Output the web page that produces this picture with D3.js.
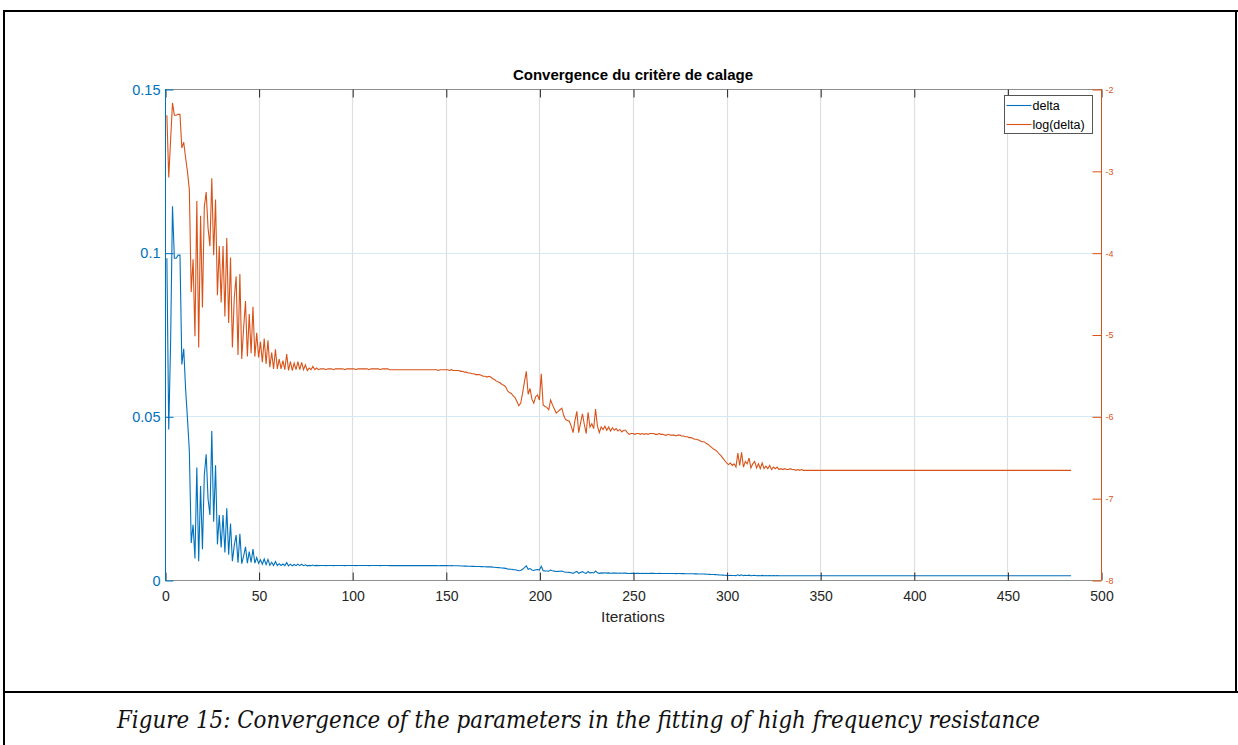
<!DOCTYPE html>
<html>
<head>
<meta charset="utf-8">
<script src="https://cdn.jsdelivr.net/npm/d3@7"></script>
<style>
  html, body { margin: 0; padding: 0; background: #ffffff; }
  svg { display: block; font-family: "Liberation Sans", Arial, Helvetica, sans-serif; }
  .caption { font-family: "DejaVu Serif Condensed", "DejaVu Serif", serif; font-style: italic; font-stretch: condensed; }
</style>
</head>
<body>
<svg id="fig" width="1238" height="745"></svg>
<script>
// ---- data -------------------------------------------------------------
const chartTitle = "Convergence du critère de calage";
const xLabel = "Iterations";
const captionText = "Figure 15: Convergence of the parameters in the fitting of high frequency resistance";
const seriesNames = ["delta", "log(delta)"];

const xTicks = [0, 50, 100, 150, 200, 250, 300, 350, 400, 450, 500];
const leftTicks = [0, 0.05, 0.1, 0.15];
const rightTicks = [-8, -7, -6, -5, -4, -3, -2];

// log(delta) per iteration, starting at iteration 1
const logDelta = [
  -2.32, -3.08, -2.62, -2.17, -2.32, -2.32, -2.31, -2.31, -2.72, -2.65,
  -2.84, -3.01, -3.23, -4.48, -4.08, -5.02, -3.37, -5.16, -3.55, -4.67,
  -3.44, -3.26, -3.70, -3.92, -3.09, -4.03, -3.35, -4.52, -3.92, -4.61,
  -3.92, -4.78, -3.82, -4.86, -4.06, -5.16, -4.55, -4.29, -5.25, -4.26,
  -5.30, -4.92, -4.59, -5.27, -4.75, -5.23, -4.66, -5.27, -4.98, -5.28,
  -5.09, -5.34, -5.05, -5.36, -5.07, -5.40, -5.22, -5.42, -5.18, -5.42,
  -5.30, -5.42, -5.32, -5.43, -5.24, -5.44, -5.33, -5.44, -5.35, -5.43,
  -5.33, -5.43, -5.34, -5.43, -5.37, -5.44, -5.41, -5.43, -5.39, -5.43,
  -5.41, -5.43, -5.42,
  -5.42, -5.42, -5.43, -5.42, -5.42, -5.42, -5.43, -5.42, -5.42, -5.42,
  -5.42, -5.42, -5.43, -5.42, -5.42, -5.42, -5.42, -5.42, -5.43, -5.42,
  -5.42, -5.42, -5.42, -5.42, -5.42, -5.43, -5.42, -5.42, -5.42, -5.42,
  -5.42, -5.43, -5.42, -5.42, -5.42, -5.42, -5.43,
  -5.43, -5.43, -5.43, -5.43, -5.43, -5.43, -5.43, -5.43, -5.43, -5.43,
  -5.43, -5.43, -5.43, -5.43, -5.43, -5.43, -5.43, -5.43, -5.43, -5.43,
  -5.43, -5.43, -5.43, -5.43, -5.43, -5.44, -5.43, -5.43, -5.43, -5.43,
  -5.43, -5.44, -5.43, -5.44, -5.44,
  -5.44, -5.44, -5.45, -5.45, -5.46, -5.46, -5.47, -5.47, -5.48, -5.48,
  -5.49, -5.49, -5.49,
  -5.50, -5.51, -5.51, -5.52, -5.51, -5.52, -5.54,
  -5.55, -5.57, -5.58, -5.59, -5.61, -5.62, -5.64, -5.69, -5.71, -5.72,
  -5.75, -5.77, -5.82, -5.87, -5.84,
  -5.72, -5.58, -5.45, -5.73, -5.66, -5.79, -5.84, -5.76, -5.74, -5.80,
  -5.48, -5.86, -5.88, -5.89, -5.92, -5.80, -5.86, -5.91, -5.96, -5.94,
  -5.92, -5.90, -5.99, -6.04, -6.05, -6.06, -6.12, -6.20, -6.05, -5.94,
  -6.20, -6.08, -5.97, -6.10, -6.21, -5.95, -6.13, -6.09, -6.15, -5.91,
  -6.12, -6.20, -6.13, -6.16, -6.12, -6.17, -6.13, -6.18, -6.14, -6.17,
  -6.15, -6.18, -6.16, -6.19, -6.17, -6.17, -6.20, -6.22, -6.21, -6.21,
  -6.22, -6.21, -6.21, -6.22, -6.21, -6.22, -6.21, -6.22, -6.21, -6.21,
  -6.21, -6.22, -6.22, -6.21, -6.22, -6.22, -6.23, -6.23, -6.22, -6.23,
  -6.23, -6.23, -6.24, -6.23, -6.23, -6.24, -6.24, -6.25, -6.25, -6.26,
  -6.26, -6.27, -6.28, -6.28, -6.29, -6.30, -6.31, -6.31, -6.33, -6.34,
  -6.36, -6.38, -6.40, -6.41, -6.43, -6.46, -6.48, -6.51, -6.54, -6.57, -6.59,
  -6.57, -6.60, -6.58, -6.62, -6.45, -6.60, -6.44, -6.62, -6.55, -6.58,
  -6.51, -6.63, -6.58, -6.55, -6.63, -6.58, -6.64, -6.57, -6.64, -6.61,
  -6.64, -6.60, -6.65, -6.62, -6.64, -6.62, -6.65, -6.64, -6.65, -6.64,
  -6.65, -6.65, -6.64, -6.65, -6.65, -6.66, -6.65, -6.66, -6.65,
  -6.66, -6.66, -6.66, -6.66, -6.66, -6.66, -6.66, -6.66, -6.66, -6.66, -6.66, -6.66,
  -6.66, -6.66, -6.66, -6.66, -6.66, -6.66, -6.66, -6.66, -6.66, -6.66, -6.66, -6.66,
  -6.66, -6.66, -6.66, -6.66, -6.66, -6.66, -6.66, -6.66, -6.66, -6.66, -6.66, -6.66,
  -6.66, -6.66, -6.66, -6.66, -6.66, -6.66, -6.66, -6.66, -6.66, -6.66, -6.66, -6.66,
  -6.66, -6.66, -6.66, -6.66, -6.66, -6.66, -6.66, -6.66, -6.66, -6.66, -6.66, -6.66,
  -6.66, -6.66, -6.66, -6.66, -6.66, -6.66, -6.66, -6.66, -6.66, -6.66, -6.66, -6.66,
  -6.66, -6.66, -6.66, -6.66, -6.66, -6.66, -6.66, -6.66, -6.66, -6.66, -6.66, -6.66,
  -6.66, -6.66, -6.66, -6.66, -6.66, -6.66, -6.66, -6.66, -6.66, -6.66, -6.66, -6.66,
  -6.66, -6.66, -6.66, -6.66, -6.66, -6.66, -6.66, -6.66, -6.66, -6.66, -6.66, -6.66,
  -6.66, -6.66, -6.66, -6.66, -6.66, -6.66, -6.66, -6.66, -6.66, -6.66, -6.66, -6.66,
  -6.66, -6.66, -6.66, -6.66, -6.66, -6.66, -6.66, -6.66, -6.66, -6.66, -6.66, -6.66,
  -6.66, -6.66, -6.66, -6.66, -6.66, -6.66, -6.66, -6.66, -6.66, -6.66, -6.66, -6.66
];
// delta itself, recovered from its natural logarithm
const delta = logDelta.map(v => Math.exp(v));

// ---- layout -----------------------------------------------------------
const BLUE = "#0072BD";
const ORANGE = "#D95319";
const AXIS = "#262626";
const plot = { left: 165, right: 1101, top: 89, bottom: 580 };

const svg = d3.select("#fig");
svg.append("rect").attr("width", 1238).attr("height", 745).attr("fill", "#fff");

const x = d3.scaleLinear().domain([0, 500]).range([plot.left, plot.right]);
const yL = d3.scaleLinear().domain([0, 0.15]).range([plot.bottom, plot.top]);
const yR = d3.scaleLinear().domain([-8, -2]).range([plot.bottom, plot.top]);

// document frame around the figure and its caption
const frame = svg.append("g").attr("stroke", "#000").attr("stroke-width", 2);
frame.append("line").attr("x1", 3).attr("x2", 1238).attr("y1", 11).attr("y2", 11);
frame.append("line").attr("x1", 4).attr("x2", 4).attr("y1", 10).attr("y2", 745);
frame.append("line").attr("x1", 1236).attr("x2", 1236).attr("y1", 10).attr("y2", 692);
frame.append("line").attr("x1", 3).attr("x2", 1238).attr("y1", 692).attr("y2", 692);

// grid
const grid = svg.append("g");
grid.selectAll(".vg").data(xTicks.filter(t => t > 0 && t < 500)).join("line")
  .attr("x1", d => Math.round(x(d)) + 0.5).attr("x2", d => Math.round(x(d)) + 0.5)
  .attr("y1", plot.top).attr("y2", plot.bottom)
  .attr("stroke", "#dfdfdf").attr("stroke-width", 1.2);
grid.selectAll(".hg").data(leftTicks.filter(t => t > 0 && t < 0.15)).join("line")
  .attr("x1", plot.left).attr("x2", plot.right)
  .attr("y1", d => Math.round(yL(d)) + 0.5).attr("y2", d => Math.round(yL(d)) + 0.5)
  .attr("stroke", "#d6e8f5").attr("stroke-width", 1);

// data lines
const lineL = d3.line().x((d, i) => x(i + 1)).y(d => yL(d));
const lineR = d3.line().x((d, i) => x(i + 1)).y(d => yR(d));
svg.append("path").datum(delta).attr("d", lineL)
  .attr("fill", "none").attr("stroke", BLUE).attr("stroke-width", 1.1);
svg.append("path").datum(logDelta).attr("d", lineR)
  .attr("fill", "none").attr("stroke", ORANGE).attr("stroke-width", 1.1);

// box lines (top and bottom)
svg.append("line").attr("x1", plot.left).attr("x2", plot.right)
  .attr("y1", plot.top + 0.5).attr("y2", plot.top + 0.5).attr("stroke", "#8f8f8f");
svg.append("line").attr("x1", plot.left).attr("x2", plot.right)
  .attr("y1", plot.bottom + 0.5).attr("y2", plot.bottom + 0.5).attr("stroke", "#8f8f8f");

// bottom axis
const gx = svg.append("g").attr("transform", `translate(0.5,${plot.bottom + 0.5})`)
  .call(d3.axisBottom(x).tickValues(xTicks).tickSize(-8).tickPadding(11).tickFormat(d => String(d)));
gx.select(".domain").remove();
gx.selectAll(".tick line").attr("stroke", AXIS);
gx.selectAll(".tick text").attr("fill", AXIS).attr("font-size", 14)
  .attr("font-family", "Liberation Sans, Arial, sans-serif");

// top ticks
const gt = svg.append("g").attr("transform", `translate(0.5,${plot.top + 0.5})`)
  .call(d3.axisTop(x).tickValues(xTicks).tickSize(-8).tickFormat(""));
gt.select(".domain").remove();
gt.selectAll(".tick line").attr("stroke", AXIS);

// left axis (delta)
const gl = svg.append("g").attr("transform", `translate(${plot.left + 0.5},0.5)`)
  .call(d3.axisLeft(yL).tickValues(leftTicks).tickSize(-8).tickPadding(5).tickFormat(d => String(d)));
gl.select(".domain").remove();
gl.append("line").attr("y1", plot.top - 0.5).attr("y2", plot.bottom).attr("stroke", BLUE);
gl.selectAll(".tick line").attr("stroke", BLUE);
gl.selectAll(".tick text").attr("fill", BLUE).attr("font-size", 14.5)
  .attr("font-family", "Liberation Sans, Arial, sans-serif");

// right axis (log(delta))
const gr = svg.append("g").attr("transform", `translate(${plot.right + 0.5},0.5)`)
  .call(d3.axisRight(yR).tickValues(rightTicks).tickSize(-9).tickPadding(4).tickFormat(d => String(d)));
gr.select(".domain").remove();
gr.append("line").attr("y1", plot.top - 0.5).attr("y2", plot.bottom).attr("stroke", ORANGE);
gr.selectAll(".tick line").attr("stroke", ORANGE);
gr.selectAll(".tick text").attr("fill", ORANGE).attr("font-size", 9)
  .attr("font-family", "Liberation Sans, Arial, sans-serif");

// title and axis label
svg.append("text").attr("x", (plot.left + plot.right) / 2).attr("y", 80)
  .attr("text-anchor", "middle").attr("font-weight", "bold").attr("font-size", 15)
  .attr("fill", "#000").text(chartTitle);
svg.append("text").attr("x", (plot.left + plot.right) / 2).attr("y", 622)
  .attr("text-anchor", "middle").attr("font-size", 15.5)
  .attr("fill", AXIS).text(xLabel);

// legend
const legend = svg.append("g").attr("transform", "translate(1004.5,95.5)");
legend.append("rect").attr("width", 88).attr("height", 38)
  .attr("fill", "#fff").attr("stroke", "#555").attr("stroke-width", 1);
const legendColors = [BLUE, ORANGE];
const items = legend.selectAll(".item").data(seriesNames).join("g")
  .attr("transform", (d, i) => `translate(0,${10 + i * 19})`);
items.append("line").attr("x1", 2).attr("x2", 27).attr("y1", 0).attr("y2", 0)
  .attr("stroke", (d, i) => legendColors[i]).attr("stroke-width", 1.1);
items.append("text").attr("x", 28).attr("y", 4.5).attr("font-size", 12.5)
  .attr("fill", "#000").text(d => d);

// caption
svg.append("text").attr("class", "caption").attr("x", 117).attr("y", 728)
  .attr("font-size", 24)
  .attr("fill", "#111")
  .attr("textLength", 923).attr("lengthAdjust", "spacingAndGlyphs")
  .text(captionText);
</script>
</body>
</html>
